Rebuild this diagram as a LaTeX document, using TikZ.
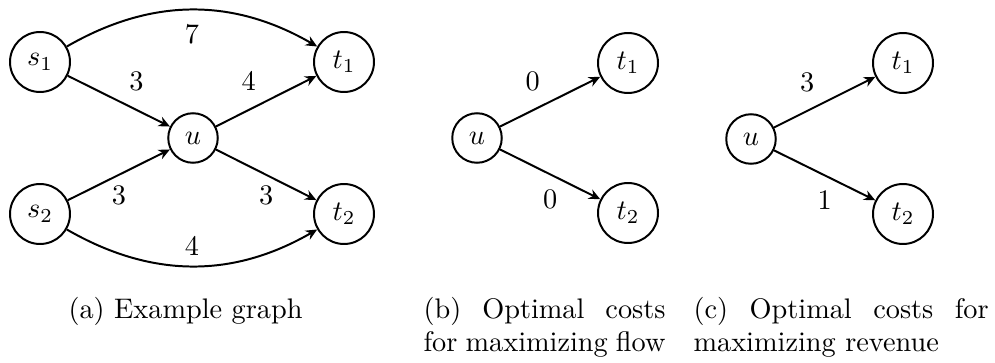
\documentclass[tikz,border=0pt]{standalone}
\usetikzlibrary{arrows.meta}
\begin{document}
\begin{tikzpicture}[x=0.3534pt,y=-0.3534pt,
  vtx/.style={draw, circle, line width=0.7pt, inner sep=0pt, minimum size=21.2pt},
  uvtx/.style={vtx, minimum size=17.5pt},
  edgearrow/.style={line width=0.7pt, -{Stealth[length=4pt,width=3.6pt,inset=1.3pt]}},
  captxt/.style={anchor=base west, inner sep=0pt, font=\fontsize{10}{12}\selectfont, align=justify}
]
\useasboundingbox (0,0) rectangle (995,362);
% (a)
\node[vtx] (s1) at (40,62) {$s_1$};
\node[vtx] (s2) at (40,214) {$s_2$};
\node[uvtx] (ua) at (193,138) {$u$};
\node[vtx] (t1a) at (344,62) {$t_1$};
\node[vtx] (t2a) at (344,214) {$t_2$};
\draw[edgearrow] (s1) to[bend left=30] node[midway, below, yshift=-1.4pt] (l7) {7} (t1a);
\draw[edgearrow] (s1) -- node[midway, above right] (l3a) {3} (ua);
\draw[edgearrow] (ua) -- node[midway, above left] (l4a) {4} (t1a);
\draw[edgearrow] (s2) -- node[midway, below] (l3b) {3} (ua);
\draw[edgearrow] (ua) -- node[midway, below] (l3c) {3} (t2a);
\draw[edgearrow] (s2) to[bend right=30] node[midway, above] (l4b) {4} (t2a);
% (b)
\node[uvtx] (ub) at (477,138) {$u$};
\node[vtx] (t1b) at (628,63) {$t_1$};
\node[vtx] (t2b) at (628,213) {$t_2$};
\draw[edgearrow] (ub) -- node[midway, above left] (l0a) {0} (t1b);
\draw[edgearrow] (ub) -- node[midway, below, yshift=-1.8pt] (l0b) {0} (t2b);
% (c)
\node[uvtx] (uc) at (751,139) {$u$};
\node[vtx] (t1c) at (903,63) {$t_1$};
\node[vtx] (t2c) at (903,214) {$t_2$};
\draw[edgearrow] (uc) -- node[midway, above left] (l3d) {3} (t1c);
\draw[edgearrow] (uc) -- node[midway, below, yshift=-1.8pt] (l1) {1} (t2c);
% captions
\node[captxt] (capa) at (68,318) {(a) Example graph};
\node[captxt, text width=85.5pt] (capb) at (423,318) {(b) Optimal costs for maximizing flow};
\node[captxt, text width=104.3pt] (capc) at (693,318) {(c) Optimal costs for maximizing revenue};
\end{tikzpicture}
\end{document}
